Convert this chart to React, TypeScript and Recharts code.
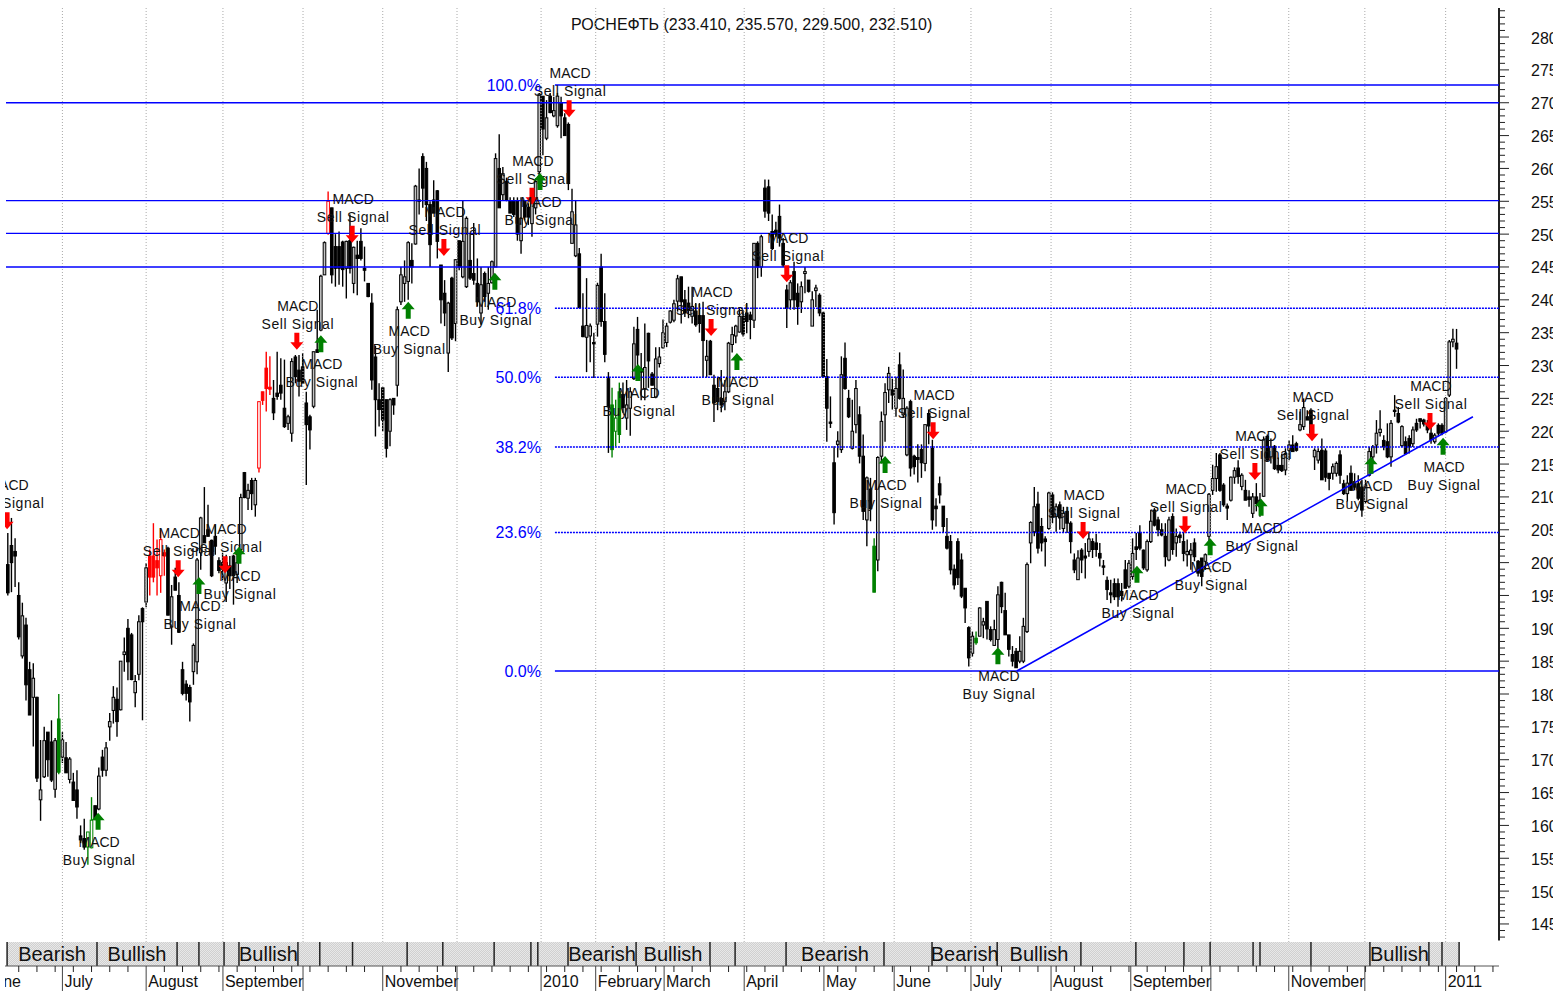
import { Bar, ComposedChart, ReferenceArea, ReferenceLine, Scatter, XAxis, YAxis } from 'recharts';

const opens = [
  199.7,202.6,201.7,195,185.8,190.5,183.7,179.5,179.5,163.9,
  167.4,174.2,172.7,165.5,176.2,170.4,170.3,167,166.6,165.4,
  158.4,158,156.7,156.6,163,162.5,170.4,168.4,175,177.5,
  179.2,177.6,186,190,189,180.2,183,193,194,201,
  201,200.3,198,201.5,202.2,190.2,197.8,195,183.7,181.5,
  181,183.4,184.9,201.5,204.1,205,203.4,204,200.3,200,
  196.9,199.5,201,198.2,202,213.7,209.8,212.5,208.8,214.4,
  226,229.6,226.7,225,225.8,227,223.5,221.2,219.7,231.3,
  229.3,229.8,224.3,222.2,223.8,232.4,235.4,243.8,250.1,254,
  248.1,248.1,248.8,244.8,249,242.5,246.8,248.9,244.8,242.5,
  239.5,231.3,224.8,226.6,224.8,220,225,227,239.7,242.5,
  242.8,246,248.5,255.2,261.8,260,254.5,255.2,256.6,245.3,
  241,231.9,243.3,236.4,249,243.5,242,246,244,242.5,
  238,244,241,242.6,245,260,256,258,255,255,
  255,249,255,254.1,251.6,254,259.5,271,264.6,271,
  268,266.5,270,267.7,266.7,248.6,246.7,247,236,234.3,
  234.5,233.5,236.3,245,236.7,228,224,220,226,225.6,
  222,223.5,228,235.5,229.5,226.4,234.9,228.7,225.2,230.3,
  232.7,233.5,236.6,236.9,239.8,243.5,240,239.5,237.5,238.3,
  237.6,237.6,230.8,233.7,227,226.5,225,224.5,226,233.2,
  234.5,235.1,237.5,238,237.7,236.9,248.6,245,257,257.2,
  250.4,250.6,252.7,248.6,241.5,240,244.3,241,239.7,244,
  243,236,241.4,240.7,238,228.3,221.4,215.2,218,217.2,
  231.1,225,217.4,221,222.5,216.2,206.5,211.2,202.5,200.4,
  216.2,222.5,226.3,226.3,223.5,230.1,222.5,216.4,224.5,216.2,
  216,217.2,215.1,222.7,217.4,208.6,212,208.6,204,203.2,
  199,203.2,200.4,196.1,190.1,186.2,188.5,188.8,190.5,194.1,
  189.8,187.4,188.3,197,192.7,189,186,186.5,185,185,
  189.5,203,204.7,208.9,205.5,203.6,205.2,210.3,207,208.8,
  205.2,207.8,206,200.4,197.4,201.9,201,201.7,203.2,203,
  201.4,199.5,197.3,195.4,196.8,196.8,195.6,198.9,196.4,197.9,
  202.4,204.5,201.9,198.9,203.2,208,206.5,205,204,200.4,
  207,203,204.2,203.2,201.2,201.2,203,200.2,200.7,200.2,
  204,211,212.8,216.4,211.8,208.6,209.5,213,214.4,211.6,
  211,210,207.5,210,209.5,210.1,219.2,216.1,217.7,214.8,
  214.8,214.1,217.1,217.9,218.1,220.2,220.7,222.2,223.2,216.1,
  215.6,217.1,217,213.6,213.6,213.6,216.4,212,210.5,213.6,
  212,212,211.5,209.3,213.3,216.1,217.9,219.8,218.6,218.4,
  216.1,223.2,222.7,217.8,218.4,218.9,218.1,221.2,221.9,221.7,
  220.9,219.7,218.4,220.9,220.9,219.9,225.5,233.6,233.41,
];

const highs = [
  204.5,206.8,203.7,197,193.9,191.6,184.9,184.7,179.6,173,
  175,174.2,176,173.3,180,174.2,172.7,170.4,168,168.4,
  160,161,159,164.3,163,168.8,171.5,172.7,177.1,181.2,
  181,185,188.6,191.4,189.3,182.9,192,193.2,199.9,202,
  206,203.5,205,202,202.4,196.6,199.2,197,184.9,182.1,
  181.4,187.7,200.7,207,211.5,208.8,203.5,205.7,200.8,201.5,
  201.2,201,201.2,201.7,210.5,213.8,212,212.9,212.9,224.5,
  226,232.1,231.4,227.8,232.1,231.1,230.9,222.5,231.1,231.6,
  231.6,231.9,226,222.5,232.1,238.5,243.8,248.9,256.5,254,
  250,250.4,249,249,253,248.1,249,250.9,248.1,242.5,
  241,233,227.3,226.6,224.8,225,225,239,245,246,
  248.9,248.6,257.5,260,262.3,261,255,258.2,256.7,245.3,
  243,239.7,243.5,246.2,249,255.2,252.7,250.1,251.7,246.3,
  245,244.3,245,246,262.3,265.2,260.2,258.6,255.6,255.6,
  255.6,255.6,255.2,254.7,256.4,258.5,271.5,271,270.4,271.5,
  270.9,271.5,270.9,268.4,267,256.9,255.2,247.9,241,243.3,
  236.4,235,242.6,247,241,229,226.6,224.8,227.4,227.4,
  227.8,226.7,235.9,237.4,231.9,236.4,235,229,232.8,232.8,
  237,236.5,238.4,240,243.8,243.5,241.5,242,242,239.5,
  239.5,239.7,233.9,233.9,228.6,228.2,229.3,227.8,233.6,235.9,
  236.2,238.8,238.4,239.5,238.2,248.6,248.9,249.9,258.3,258.3,
  253,251.9,254.5,249.4,242.3,243,245.8,242.5,242.8,245,
  243,241.3,242.3,241,238.2,231,225.3,217.7,220,231.4,
  233.5,226.3,224.8,227.8,223.8,219.5,213.1,212.9,203.7,216.2,
  223,227.3,229.8,228,228.3,232,229.4,223.8,224.8,216.4,
  218,218,221,223.3,218.7,209.8,213.1,208.6,206.8,204.2,
  199.7,203.7,201.4,196.1,190.3,189.5,189.5,193.2,191.6,194.1,
  190.3,191.3,196.4,197.1,195.4,189,187.3,187,188.8,191.6,
  200,206.3,211.5,210.8,206.8,204,210.8,210.7,209,209.3,
  208.5,208.5,206.3,201.4,201.9,202.2,203,204.7,203.7,204.4,
  203,200.4,197.9,197.4,197.6,197.6,196.9,200.4,200.4,203.7,
  204.5,205.7,202,203.5,208,208.3,207,206,206,207,
  207.5,205.2,204.7,204.7,203.5,203,203.7,200.4,200.7,201.4,
  210.6,214.9,216.7,216.7,212.1,209,213.1,214.5,215.6,213.6,
  212.6,211,210.6,212.1,210.6,219.2,219.5,218.9,217.9,216,
  216.6,217.4,218.6,219.4,218.4,223,225,223.2,223.5,217.4,
  217.4,218.9,217.4,213.6,215.1,215.4,217.1,212.6,213.3,214.8,
  213.6,213.3,212.6,212.6,217.6,217.9,221.7,223.2,219.4,221.2,
  221.7,225.5,223.7,220.9,219.2,219.4,220.7,221.9,221.9,221.9,
  221.7,220.9,219.7,221.2,221.2,225.2,233.9,235.6,235.57,
];

const lows = [
  195,195.5,196.3,188.3,185.4,179,176.8,172,166.6,160.7,
  167.2,167.4,166.6,164.2,167.8,169.5,168,166.4,163.8,161,
  157.3,156.3,154,156.5,160.8,162.3,167.4,167.5,172.9,175.5,
  173.5,177.5,183.4,182.1,182.1,178,182.1,176,193.2,195,
  197,195,195.4,198,192,187.5,195.8,189.3,179.8,179,
  175.8,181.4,183,198.9,203,204,197.8,201.2,198.4,197.3,
  194,196,193.6,196.9,201.2,209.8,208,208,207,213.7,
  224,223,225.5,221.7,224.8,224.8,220.5,220.2,218.4,227.3,
  225.3,227.3,211.8,217.2,223.5,232,235.2,243.8,249.9,242.5,
  242,242.3,242,240.2,244,241,240.7,246,242.8,240.4,
  226.3,219.2,220.7,220,216,217.7,222.5,225.3,239.2,239.7,
  240,242.5,248.4,253,254,252,245,253.2,246.3,236.4,
  236,229,233.9,233.7,244.5,243.3,241.8,243,242.3,239,
  236.2,239.7,238.5,242.5,245,254,255.2,255,253.2,252.6,
  249,247,252.1,251.4,249.6,253,258.2,262,264.3,268.4,
  267.8,266.2,264.6,265,256.7,248.6,246.5,238.8,234.3,229,
  230.5,228.1,234.4,235.9,230.5,216.7,216,217.7,218.2,222.8,
  220.2,219.3,227.8,227.8,224.7,224.7,226.6,227,225,229.7,
  232.6,232.8,236.4,236.6,238.2,236.4,237.4,237.2,236.4,235.9,
  235,228.2,228.2,228.6,221.4,223.2,222.9,223.2,225.8,232,
  233.4,235,234.4,234.9,234,235.7,243.3,243.5,252.5,252,
  247.6,249.6,248.1,245,235.7,238.5,238.5,236.2,238,241,
  241.1,236,238.9,237.5,228.3,218.4,220.5,205.8,216,216.7,
  226.3,222,217.2,219.7,215.1,206.5,202.5,206.3,195.5,198.7,
  215.1,218.4,224.3,223.3,222.2,224.8,222,216.2,213.1,213.4,
  212.2,212.9,213.9,218,205,205.5,209,204.5,202,198.2,
  195.9,196.6,194.6,190.8,184.2,185.7,187.5,188.8,188.5,188.3,
  188,187.3,187,192.3,189,185.7,184.2,184,184.7,184.7,
  189.3,199.9,204,201.4,201.7,199.4,205,206,204.7,205,
  204.5,204.5,201.4,198.4,197.4,198.4,197.6,200.9,200.7,200.9,
  199.4,198.1,194.3,193.8,194.3,193.3,194.1,196.1,196.1,197.4,
  200.4,201.9,198.9,198.6,203,205.5,204,204,199.4,200.2,
  201.2,200.9,203,200.2,199.4,198.9,200.2,197.9,196.4,198.9,
  201.4,210.3,210.8,210.8,208.5,206.5,209.3,212,212,211,
  209.5,208.5,206.8,207.8,207,210,215.5,215.1,214.1,213.6,
  213.8,213.3,215.6,216.9,216.9,220,220.2,221.7,219.4,214.1,
  215.1,212.6,212.3,211,212.6,213.1,212,210.3,209.3,211,
  211,209.5,207,209,213.1,215.1,216.6,219.2,217.1,215.9,
  214.6,222.2,221.2,217.6,216.4,216.6,217.6,219.9,220.4,220.7,
  219.7,218.1,218.1,219.2,219.4,219.7,225.2,232.8,229.5,
];

const closes = [
  195.4,200,201,188.7,191.9,181.4,176.8,182.4,167.2,165.4,
  172.9,170,166.9,172.9,168.1,173,168,170.1,163.8,162.8,
  157.8,156.7,159,160.8,161,167.5,168.4,171.8,175.8,179.5,
  175.8,185,186.4,184.9,182.2,181.9,191,191,199.2,197.8,
  197.8,199.2,203.5,201,192,194.8,195.8,189.4,180.1,180.1,
  178.8,187.4,200.4,206.8,203,204,198,202.5,198.8,199,
  200,198,198,200,209.9,209.9,211,210.5,212.5,224.5,
  224.7,226.5,226.4,222.8,225.3,225.8,220.7,222.2,230.6,228.3,
  227.6,227.3,221,220.2,232.1,232,243.6,248.7,255,243.8,
  244.8,244.8,244.6,248.9,244.8,248,246.3,246.3,244.5,240.5,
  227.8,224.8,223.3,221.7,217.4,224.8,224,238.5,243.8,243.5,
  248.7,245,257.3,255,257,254.5,248.4,253.2,248.9,240,
  238,239.5,234.2,246.1,245,248.9,252.4,243.3,243,239.7,
  242.3,240.5,242.5,245.8,261.5,254,259.2,255.2,253.2,253,
  250,252.4,252.6,252.6,255,258,271.3,266,267.7,268.5,
  268.8,271,268,265,257.7,253.4,251.4,238.8,234.4,236.1,
  236,233.3,242.2,236.7,231.7,223.7,217.2,222,219.5,223.6,
  224,226,233.3,231.6,229,229.7,230.7,227,231,231.3,
  235,236,238.3,239.4,243.2,239.7,238,238.5,239,236.2,
  236.4,233.8,231.4,228.6,224.3,224.5,224,226,233.4,234.7,
  236,237.5,234.8,236.7,237,248.6,245,249.6,253.5,253.2,
  247.8,250,249.4,245.3,238.7,242.6,240,239,242,244.3,
  241.3,240,241.8,238,228.3,223.5,221.2,207.6,218.5,228.6,
  226.5,222.2,220,226.5,216.2,207.8,212.9,208.2,195.5,216,
  221.5,225.9,228.8,225.5,226.5,225,225,223.5,214.4,214.6,
  215.7,215.2,221,220.8,206.5,208.2,210.3,205.5,202.2,198.9,
  196.6,197.7,194.9,193.1,185.5,188.8,187.8,193.1,191,189.9,
  188.3,189.8,195.1,193.3,189,186.8,185,184,186.5,190.3,
  199.7,206.1,208.5,202.2,203,203.2,210.6,207,208.5,206.8,
  207.5,206,203.2,198.9,200.7,200.4,200.7,203.6,202,202,
  200.7,199.3,195.9,195.1,194.8,194.8,195,196.1,199.9,201.4,
  202,202.2,199.2,203.2,206.3,205.7,205,204.2,200.9,206.5,
  202,204,203.8,201.4,201.7,201.9,200.9,198.4,197.9,201.2,
  210.4,212.8,214.6,211,208.8,208.3,213,214,213.1,213.3,
  209.5,209.6,210,209,208.5,218.7,215.6,217.6,214.3,214.1,
  214,216.6,217.9,216.9,217.1,221,223.6,221.7,219.7,217.1,
  216.9,212.6,213,212.8,214.6,215.1,213.3,210.5,212.1,211,
  211.5,209.8,208,211.8,216.9,217.6,219.7,220.3,217.6,216.1,
  221.2,223,221.4,220.7,216.6,217.7,220.2,220.2,221.5,221.1,
  220.2,218.7,219.4,219.7,219.7,225,233.6,234,232.51,
];

const redCandles = [39, 40, 41, 42, 43, 69, 70, 71, 72, 88];
const greenCandles = [14, 22, 23, 166, 167, 168, 238, 266];

// MACD signals, position along the candles and the price the arrow sits at
const sellIndex = [-0.2, 46.8, 59.7, 79.4, 94.6, 119.8, 144, 154.2, 193.2, 214, 254.2, 295.4, 323.4, 342.6, 358.3, 390.7];
const sellPrice = [206.3, 199, 199.6, 233.6, 249.9, 247.9, 255.7, 269, 235.7, 243.9, 220, 204.8, 205.7, 213.8, 219.7, 221.4];
const buyIndex = [24.8, 52.5, 63.5, 86, 110, 133.8, 146.2, 173.1, 200.3, 241, 272, 310.2, 330.3, 344.3, 374.5, 394.3];
const buyPrice = [160.7, 196.6, 201.2, 233.4, 238.5, 242.9, 258.1, 229, 230.7, 215, 185.9, 198.3, 202.5, 208.5, 214.9, 217.8];

const fibLevels = [272.7, 238.7, 228.2, 217.6, 204.6, 183.5];
const fibLabels = ['100.0%', '61.8%', '50.0%', '38.2%', '23.6%', '0.0%'];
const fibDotted = [false, true, true, true, true, false];
const fullLevels = [270, 255.1, 250.1, 245];
const trendFrom = { x: 277.2, y: 183.5 };
const trendTo = { x: 402.5, y: 222.2 };

const monthTicks = [15, 38, 59.1, 81.1, 103, 123.4, 146.5, 161.5, 180.3, 202.3, 224.2, 243.5, 264.6, 286.6, 308.5, 330.5, 351.9, 372.8, 395];
const monthLabels = ['July', 'August', 'September', '', 'November', '', '2010', 'February', 'March', 'April', 'May', 'June', 'July', 'August', 'September', '', 'November', '', '2011'];
const weekTicks = Array.from({ length: 82 }, (_, k) => 3 + k * 5).filter((t) => !monthTicks.includes(t));

const sentimentBreaks = [-0.2, 24.5, 46.5, 52.5, 59.4, 63.5, 79.7, 85.7, 94.7, 109.7, 119.5, 133.6, 143.7, 145.6, 153.9, 172.6, 192.9, 199.8, 213.8, 240.7, 253.9, 271.8, 294.8, 309.9, 323.1, 330.3, 342.1, 344, 358, 374.2, 390.4, 394, 398.7];
const sentimentLabels = ['Bearish', 'Bullish', '', '', '', 'Bullish', '', '', '', '', '', '', '', '', 'Bearish', 'Bullish', '', '', 'Bearish', '', 'Bearish', 'Bullish', '', '', '', '', '', '', '', 'Bullish', '', ''];

const X_MIN = -0.775;
const X_MAX = 409.66;
const Y_TOP = 284.42;
const Y_BOTTOM = 138.6;
const AXIS_END = 142.5;
const BAND_TOP = 142.26;

const priceTicks = Array.from({ length: 142 }, (_, k) => 143 + k);
const FONT = '"Liberation Sans", Arial, sans-serif';

const rows = opens.map((open, i) => ({
  i,
  open,
  high: highs[i],
  low: lows[i],
  close: closes[i],
  range: [lows[i], highs[i]],
  color: redCandles.includes(i) ? '#ff0000' : greenCandles.includes(i) ? '#008000' : '#000000',
}));

const sellRows = sellIndex.map((i, k) => ({ i, price: sellPrice[k] }));
const buyRows = buyIndex.map((i, k) => ({ i, price: buyPrice[k] }));

const Candle = (props: any) => {
  const { x, y, width, height, payload } = props;
  const cx = x + width / 2;
  const unit = height / (payload.high - payload.low);
  const yOpen = y + (payload.high - payload.open) * unit;
  const yClose = y + (payload.high - payload.close) * unit;
  const up = payload.close > payload.open;
  const top = Math.min(yOpen, yClose);
  const bodyHeight = Math.max(Math.abs(yOpen - yClose), 1);
  const upFill = payload.color === '#000000' ? '#c4c4c4' : '#ffffff';
  return (
    <g>
      <line x1={cx} x2={cx} y1={y} y2={y + height} stroke={payload.color} strokeWidth={1.4} />
      <rect
        x={cx - 1.3}
        y={top}
        width={2.6}
        height={bodyHeight}
        fill={up ? upFill : payload.color}
        stroke={payload.color}
        strokeWidth={1}
      />
    </g>
  );
};

const SellMark = (props: any) => {
  const { cx, cy } = props;
  return (
    <g fontFamily={FONT} fill="#111">
      <path
        d={`M${cx - 2.5} ${cy - 9}h5v9.5h4L${cx} ${cy + 8}l-6.5 -7.5h4z`}
        fill="#ff0000"
      />
      <text x={cx + 1} y={cy - 36} fontSize={14} textAnchor="middle" dominantBaseline="central">MACD</text>
      <text x={cx + 1} y={cy - 18} fontSize={14} letterSpacing={0.6} textAnchor="middle" dominantBaseline="central">Sell Signal</text>
    </g>
  );
};

const BuyMark = (props: any) => {
  const { cx, cy } = props;
  return (
    <g fontFamily={FONT} fill="#111">
      <path
        d={`M${cx - 2.5} ${cy + 9}h5v-9.5h4L${cx} ${cy - 8}l-6.5 7.5h4z`}
        fill="#008000"
      />
      <text x={cx + 1} y={cy + 21} fontSize={14} textAnchor="middle" dominantBaseline="central">MACD</text>
      <text x={cx + 1} y={cy + 39} fontSize={14} letterSpacing={0.6} textAnchor="middle" dominantBaseline="central">Buy Signal</text>
    </g>
  );
};

const PriceTick = (props: any) => {
  const { x, y, payload } = props;
  const major = payload.value % 5 === 0;
  return (
    <g>
      <line x1={x} x2={x + (major ? 10 : 6)} y1={y} y2={y} stroke="#222" />
      {major && payload.value >= 145 && (
        <text x={x + 32} y={y + 1} fontSize={16} fontFamily={FONT} fill="#111" dominantBaseline="central">
          {payload.value}
        </text>
      )}
    </g>
  );
};

const DateTick = (props: any) => {
  const { x, y, payload } = props;
  if (payload.value === X_MIN) {
    return (
      <text x={x + 16} y={y + 21} fontSize={16} fontFamily={FONT} fill="#111" textAnchor="end">June</text>
    );
  }
  const m = monthTicks.indexOf(payload.value);
  if (m < 0) {
    return <line x1={x} x2={x} y1={y} y2={y + 6} stroke="#222" />;
  }
  return (
    <g>
      <line x1={x} x2={x} y1={y} y2={y + 25} stroke="#444" />
      <text x={x + 2} y={y + 21} fontSize={16} fontFamily={FONT} fill="#111">{monthLabels[m]}</text>
    </g>
  );
};

export default function App() {
  return (
    <div style={{ position: 'absolute', left: 5, top: 0, width: 1548, height: 992, overflow: 'hidden' }}>
      <div
        style={{
          position: 'absolute',
          left: 566,
          top: 16,
          fontFamily: FONT,
          fontSize: 16,
          color: '#111',
          whiteSpace: 'nowrap',
        }}
      >
        РОСНЕФТЬ (233.410, 235.570, 229.500, 232.510)
      </div>
      <ComposedChart
        width={1548}
        height={992}
        data={rows}
        margin={{ top: 8, right: 0, bottom: 0, left: 0 }}
        barGap={0}
      >
        <defs>
          <pattern id="hatch" width={2} height={2} patternUnits="userSpaceOnUse">
            <rect width={2} height={2} fill="#e8e8e8" />
            <rect width={1} height={1} fill="#d0d0d0" />
            <rect x={1} y={1} width={1} height={1} fill="#d0d0d0" />
          </pattern>
        </defs>
        <XAxis
          dataKey="i"
          type="number"
          domain={[X_MIN, X_MAX]}
          allowDataOverflow
          ticks={[X_MIN, ...weekTicks, ...monthTicks]}
          interval={0}
          tick={<DateTick />}
          tickLine={false}
          tickSize={0}
          tickMargin={0}
          height={26}
          stroke="#555"
        />
        <YAxis
          orientation="right"
          type="number"
          domain={[Y_BOTTOM, Y_TOP]}
          allowDataOverflow
          ticks={priceTicks}
          interval={0}
          tick={<PriceTick />}
          tickLine={false}
          axisLine={false}
          tickSize={0}
          tickMargin={0}
          width={54}
        />
        {monthTicks.map((m) => (
          <ReferenceLine
            key={`grid-${m}`}
            segment={[{ x: m, y: Y_TOP }, { x: m, y: BAND_TOP }]}
            stroke="#aaa"
            strokeDasharray="1 2"
          />
        ))}
        <ReferenceLine
          segment={[{ x: X_MAX, y: Y_TOP }, { x: X_MAX, y: AXIS_END }]}
          stroke="#222"
          strokeWidth={2}
        />
        {sentimentLabels.map((label, k) => (
          <ReferenceArea
            key={`band-${k}`}
            x1={sentimentBreaks[k]}
            x2={sentimentBreaks[k + 1]}
            y1={Y_BOTTOM}
            y2={BAND_TOP}
            fill="url(#hatch)"
            fillOpacity={1}
            stroke="none"
            label={label ? { value: label, position: 'center', fontSize: 20, fontFamily: FONT, fill: '#111' } : undefined}
          />
        ))}
        {sentimentBreaks.map((b) => (
          <ReferenceLine
            key={`break-${b}`}
            segment={[{ x: b, y: Y_BOTTOM }, { x: b, y: BAND_TOP }]}
            stroke="#222"
            strokeWidth={1.5}
          />
        ))}
        <Bar dataKey="range" barSize={3} shape={<Candle />} isAnimationActive={false} />
        {fullLevels.map((level) => (
          <ReferenceLine
            key={`level-${level}`}
            segment={[{ x: -0.5, y: level }, { x: X_MAX, y: level }]}
            stroke="#0000ff"
            strokeWidth={1.3}
          />
        ))}
        {fibLevels.map((level, k) => (
          <ReferenceLine
            key={`fib-${level}`}
            segment={[{ x: 150.3, y: level }, { x: X_MAX, y: level }]}
            stroke="#0000ff"
            strokeWidth={fibDotted[k] ? 1.5 : 1.3}
            strokeDasharray={fibDotted[k] ? '2 1' : undefined}
            label={{ value: fibLabels[k], position: 'left', offset: 14, fontSize: 16, fontFamily: FONT, fill: '#0000ff' }}
          />
        ))}
        <ReferenceLine segment={[trendFrom, trendTo]} stroke="#0000ff" strokeWidth={1.5} />
        <Scatter data={sellRows} dataKey="price" shape={<SellMark />} isAnimationActive={false} />
        <Scatter data={buyRows} dataKey="price" shape={<BuyMark />} isAnimationActive={false} />
      </ComposedChart>
    </div>
  );
}
